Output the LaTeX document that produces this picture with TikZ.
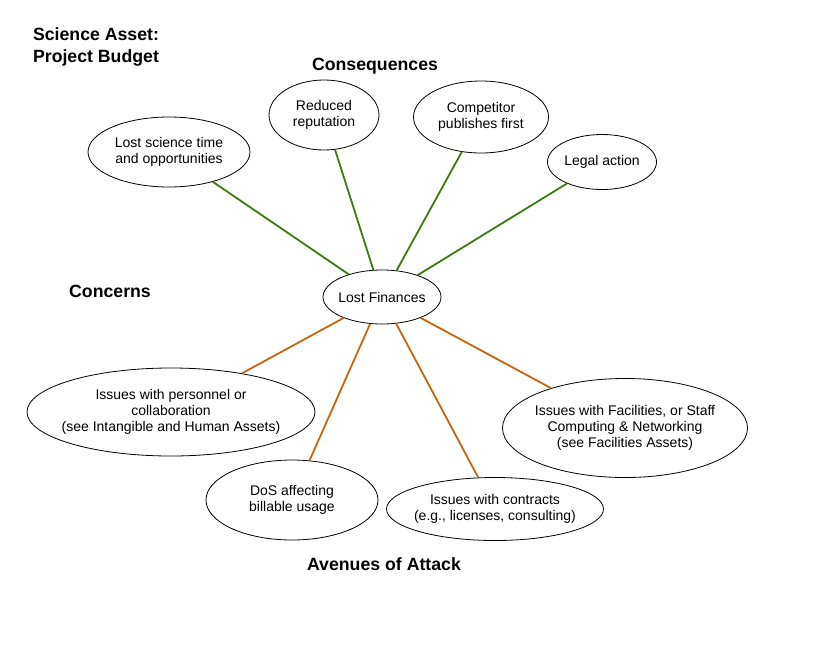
\documentclass[tikz,border=0pt]{standalone}
\usepackage{fontspec}
\setmainfont{Liberation Sans}
\usetikzlibrary{shapes.geometric}
\definecolor{consgreen}{RGB}{62,122,18}
\definecolor{attackorange}{RGB}{200,100,16}
\begin{document}
\begin{tikzpicture}[x=1pt,y=-1pt,
  % negative inner sep keeps each ellipse at its given minimum size
  bubble/.style={ellipse,draw=black,line width=0.8pt,inner sep=-30pt,align=center,
    font=\fontsize{14}{16}\selectfont},
  heading/.style={font=\fontsize{17.7}{22}\selectfont\bfseries,align=center},
  conseq/.style={draw=consgreen,line width=1.8pt},
  attack/.style={draw=attackorange,line width=1.8pt}]
\useasboundingbox (0,0) rectangle (819,651);
% headings
\node[heading] (title) at (96,47) {Science Asset:\\Project Budget};
\node[heading] (hcons) at (375,66) {Consequences};
\node[heading] (hconc) at (110,291) {Concerns};
\node[heading] (havn) at (384,564) {Avenues of Attack};
% central node
\node[bubble,minimum width=118,minimum height=54] (lf) at (382,297) {Lost Finances};
% consequences
\node[bubble,minimum width=162,minimum height=70] (time) at (169,152) {Lost science time\\and opportunities};
\node[bubble,minimum width=110,minimum height=70] (rep) at (324,115) {Reduced\\reputation};
\node[bubble,minimum width=135,minimum height=72] (comp) at (481,117) {Competitor\\publishes first};
\node[bubble,minimum width=109,minimum height=55] (legal) at (602,162) {Legal action};
% avenues of attack
\node[bubble,minimum width=288,minimum height=88] (pers) at (171,412) {Issues with personnel or\\collaboration\\(see Intangible and Human Assets)};
\node[bubble,minimum width=172,minimum height=80] (dos) at (292,500) {DoS affecting\\billable usage};
\node[bubble,minimum width=217,minimum height=63] (contr) at (495,509) {Issues with contracts\\(e.g., licenses, consulting)};
\node[bubble,minimum width=245,minimum height=99] (fac) at (625,428) {Issues with Facilities, or Staff\\Computing \& Networking\\(see Facilities Assets)};
% connectors
\draw[conseq] (lf) -- (time);
\draw[conseq] (lf) -- (rep);
\draw[conseq] (lf) -- (comp);
\draw[conseq] (lf) -- (legal);
\draw[attack] (lf) -- (pers);
\draw[attack] (lf) -- (dos);
\draw[attack] (lf) -- (contr);
\draw[attack] (lf) -- (fac);
\end{tikzpicture}
\end{document}
